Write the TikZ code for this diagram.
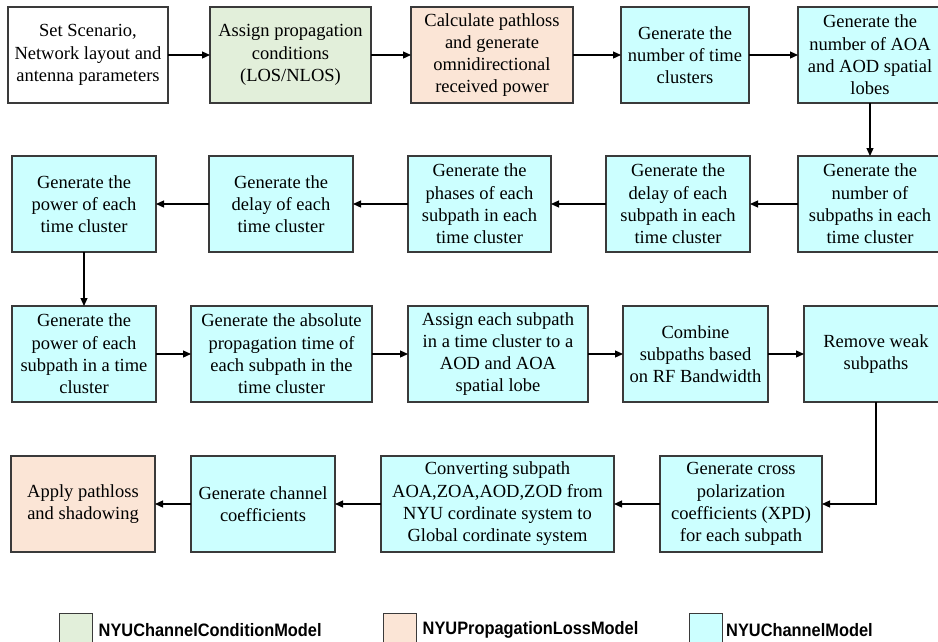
\documentclass[tikz,border=0pt]{standalone}
\usepackage{fontspec}
\setmainfont{Liberation Serif}
\newfontfamily\legendfont{Liberation Sans}
\usepackage{graphicx}
\usepackage{tikz}
\usetikzlibrary{arrows.meta,positioning}
\definecolor{condgreen}{HTML}{E2EFDA}
\definecolor{lossorange}{HTML}{FBE5D6}
\definecolor{chancyan}{HTML}{CCFFFF}
\definecolor{boxedge}{HTML}{3A3A3A}

\begin{document}
\begin{tikzpicture}[
  x=1pt, y=-1pt,
  box/.style={
    rectangle,
    draw=boxedge,
    line width=1.2pt,
    minimum height=96pt,
    inner sep=2pt,
    outer sep=0pt,
    align=center,
    font=\fontsize{18.5}{22.3}\selectfont
  },
  start/.style={box, fill=white},
  cond/.style={box, fill=condgreen},
  loss/.style={box, fill=lossorange},
  chan/.style={box, fill=chancyan},
  flow/.style={-{Triangle[length=8pt,width=7pt]}, line width=1.2pt},
  legkey/.style={rectangle, draw=boxedge, line width=1pt, minimum width=33pt, minimum height=33pt, inner sep=0pt},
  legtext/.style={anchor=west, inner sep=0pt, font=\legendfont\bfseries\fontsize{18}{20}\selectfont}
]
\useasboundingbox (0,0) rectangle (938,641);

% Row 1: setup and first model steps
\node[start, minimum width=160pt] (setup) at (88,55) {Set Scenario,\\Network layout and\\antenna parameters};
\node[cond, minimum width=161pt, right=42pt of setup] (losprob) {Assign propagation\\conditions\\(LOS/NLOS)};
\node[loss, minimum width=162pt, right=40pt of losprob] (pathloss) {Calculate pathloss\\and generate\\omnidirectional\\received power};
\node[chan, minimum width=128pt, right=48pt of pathloss] (nclusters) {Generate the\\number of time\\clusters};
\node[chan, minimum width=144pt, right=49pt of nclusters] (nlobes) {Generate the\\number of AOA\\and AOD spatial\\lobes};

% Row 2: cluster level (right to left)
\node[chan, minimum width=144pt, below=53pt of nlobes] (nsubpaths) {Generate the\\number of\\subpaths in each\\time cluster};
\node[chan, minimum width=144pt, left=48pt of nsubpaths] (subdelay) {Generate the\\delay of each\\subpath in each\\time cluster};
\node[chan, minimum width=143pt, left=55pt of subdelay] (subphase) {Generate the\\phases of each\\subpath in each\\time cluster};
\node[chan, minimum width=144pt, left=55pt of subphase] (cdelay) {Generate the\\delay of each\\time cluster};
\node[chan, minimum width=144pt, left=53pt of cdelay] (cpower) {Generate the\\power of each\\time cluster};

% Row 3: subpath level
\node[chan, minimum width=144pt, below=54pt of cpower] (spower) {Generate the\\power of each\\subpath in a time\\cluster};
\node[chan, minimum width=181pt, right=35pt of spower] (abstime) {Generate the absolute\\propagation time of\\each subpath in the\\time cluster};
\node[chan, minimum width=180pt, right=36pt of abstime] (lobeassign) {Assign each subpath\\in a time cluster to a\\AOD and AOA\\spatial lobe};
\node[chan, minimum width=145pt, right=35pt of lobeassign] (combine) {Combine\\subpaths based\\on RF Bandwidth};
\node[chan, minimum width=144pt, right=36pt of combine] (rmweak) {Remove weak\\subpaths};

% Row 4: coefficients (right to left)
\node[chan, minimum width=162pt] (xpd) at (741,504) {Generate cross\\polarization\\coefficients (XPD)\\for each subpath};
\node[chan, minimum width=233pt, left=46pt of xpd] (coordconv) {Converting subpath\\AOA,ZOA,AOD,ZOD from\\NYU cordinate system to\\Global cordinate system};
\node[chan, minimum width=144pt, left=46pt of coordconv] (chcoef) {Generate channel\\coefficients};
\node[loss, minimum width=144pt, left=36pt of chcoef] (applyloss) {Apply pathloss\\and shadowing};

% Legend
\node[legkey, fill=condgreen] (keycond) at (75.5,630) {};
\node[legtext, right=6pt of keycond] (labcond) {\scalebox{0.91}[1]{NYUChannelConditionModel}};
\node[legkey, fill=lossorange] (keyloss) at (399.5,630) {};
\node[legtext, right=6pt of keyloss] (labloss) {\scalebox{0.91}[1]{NYUPropagationLossModel}};
\node[legkey, fill=chancyan] (keychan) at (706,630) {};
\node[legtext, right=3pt of keychan] (labchan) {\scalebox{0.91}[1]{NYUChannelModel}};

% Connections
\draw[flow] (setup) -- (losprob);
\draw[flow] (losprob) -- (pathloss);
\draw[flow] (pathloss) -- (nclusters);
\draw[flow] (nclusters) -- (nlobes);
\draw[flow] (nlobes) -- (nsubpaths);
\draw[flow] (nsubpaths) -- (subdelay);
\draw[flow] (subdelay) -- (subphase);
\draw[flow] (subphase) -- (cdelay);
\draw[flow] (cdelay) -- (cpower);
\draw[flow] (cpower) -- (spower);
\draw[flow] (spower) -- (abstime);
\draw[flow] (abstime) -- (lobeassign);
\draw[flow] (lobeassign) -- (combine);
\draw[flow] (combine) -- (rmweak);
\draw[flow] (rmweak.south) |- (xpd.east);
\draw[flow] (xpd) -- (coordconv);
\draw[flow] (coordconv) -- (chcoef);
\draw[flow] (chcoef) -- (applyloss);

\end{tikzpicture}
\end{document}
